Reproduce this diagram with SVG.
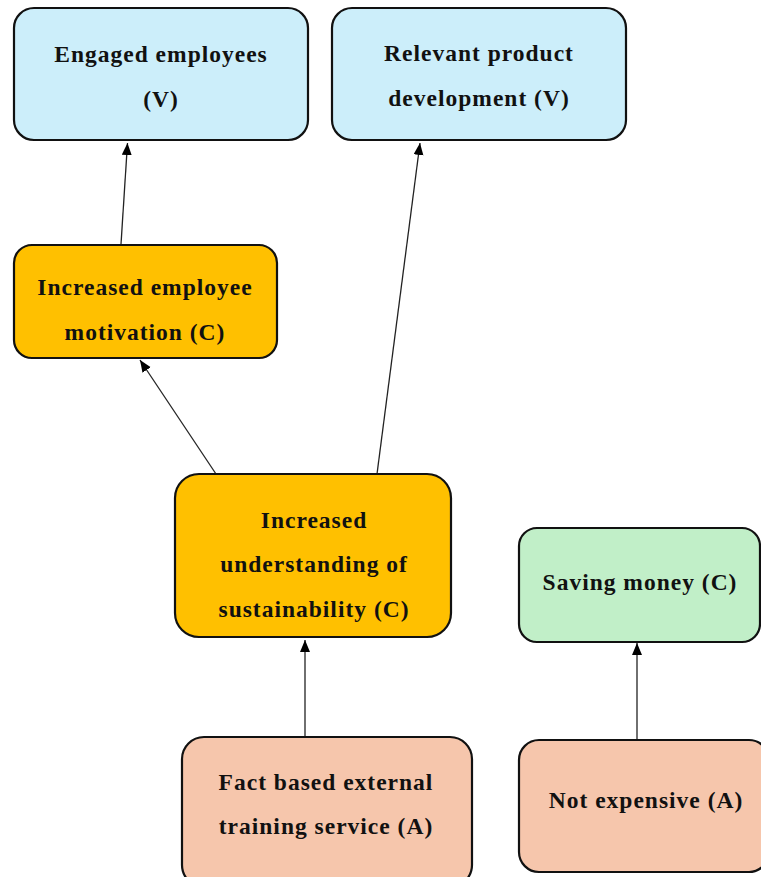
<svg xmlns="http://www.w3.org/2000/svg" width="761" height="877" viewBox="0 0 761 877">
  <defs>
    <marker id="arrow" markerUnits="userSpaceOnUse" markerWidth="13" markerHeight="11" refX="12" refY="5" orient="auto">
      <path d="M0,0 L12,5 L0,10 z" fill="#000"/>
    </marker>
    <style>
      .box { stroke: #111; stroke-width: 2.2; }
      .value { fill: #CCEEFA; }
      .cons { fill: #FFC000; }
      .green { fill: #C1EFC8; }
      .attr { fill: #F6C6AC; }
      .lbl { font-family: "Liberation Serif", "Times New Roman", serif; font-weight: bold; font-size: 23.5px; letter-spacing: 1px; fill: #111; text-anchor: middle; }
      .edge { stroke: #222; stroke-width: 1.3; fill: none; marker-end: url(#arrow); }
    </style>
  </defs>
  <rect width="761" height="877" fill="#fff"/>

  <g id="connectors">
    <line class="edge" x1="121" y1="244" x2="127.5" y2="143"/>
    <line class="edge" x1="216" y1="474" x2="140" y2="360"/>
    <line class="edge" x1="377" y1="474" x2="420" y2="143"/>
    <line class="edge" x1="305" y1="737" x2="305" y2="640"/>
    <line class="edge" x1="637" y1="740" x2="637" y2="643"/>
  </g>

  <g id="engaged-employees">
    <rect class="box value" x="14" y="8" width="294" height="132" rx="20"/>
    <text class="lbl" x="161" y="62">Engaged employees</text>
    <text class="lbl" x="161" y="107">(V)</text>
  </g>

  <g id="relevant-product-development">
    <rect class="box value" x="332" y="8" width="294" height="132" rx="20"/>
    <text class="lbl" x="479" y="61">Relevant product</text>
    <text class="lbl" x="479" y="106">development (V)</text>
  </g>

  <g id="increased-employee-motivation">
    <rect class="box cons" x="14" y="245" width="263" height="113" rx="18"/>
    <text class="lbl" x="145" y="295">Increased employee</text>
    <text class="lbl" x="145" y="340">motivation (C)</text>
  </g>

  <g id="increased-understanding">
    <rect class="box cons" x="175" y="474" width="276" height="163" rx="24"/>
    <text class="lbl" x="314" y="528">Increased</text>
    <text class="lbl" x="314" y="572">understanding of</text>
    <text class="lbl" x="314" y="617">sustainability (C)</text>
  </g>

  <g id="saving-money">
    <rect class="box green" x="519" y="528" width="241" height="114" rx="18"/>
    <text class="lbl" x="640" y="590">Saving money (C)</text>
  </g>

  <g id="fact-based-training">
    <rect class="box attr" x="182" y="737" width="290" height="150" rx="22"/>
    <text class="lbl" x="326" y="790">Fact based external</text>
    <text class="lbl" x="326" y="834">training service (A)</text>
  </g>

  <g id="not-expensive">
    <rect class="box attr" x="519" y="740" width="250" height="132" rx="20"/>
    <text class="lbl" x="646" y="808">Not expensive (A)</text>
  </g>
</svg>
